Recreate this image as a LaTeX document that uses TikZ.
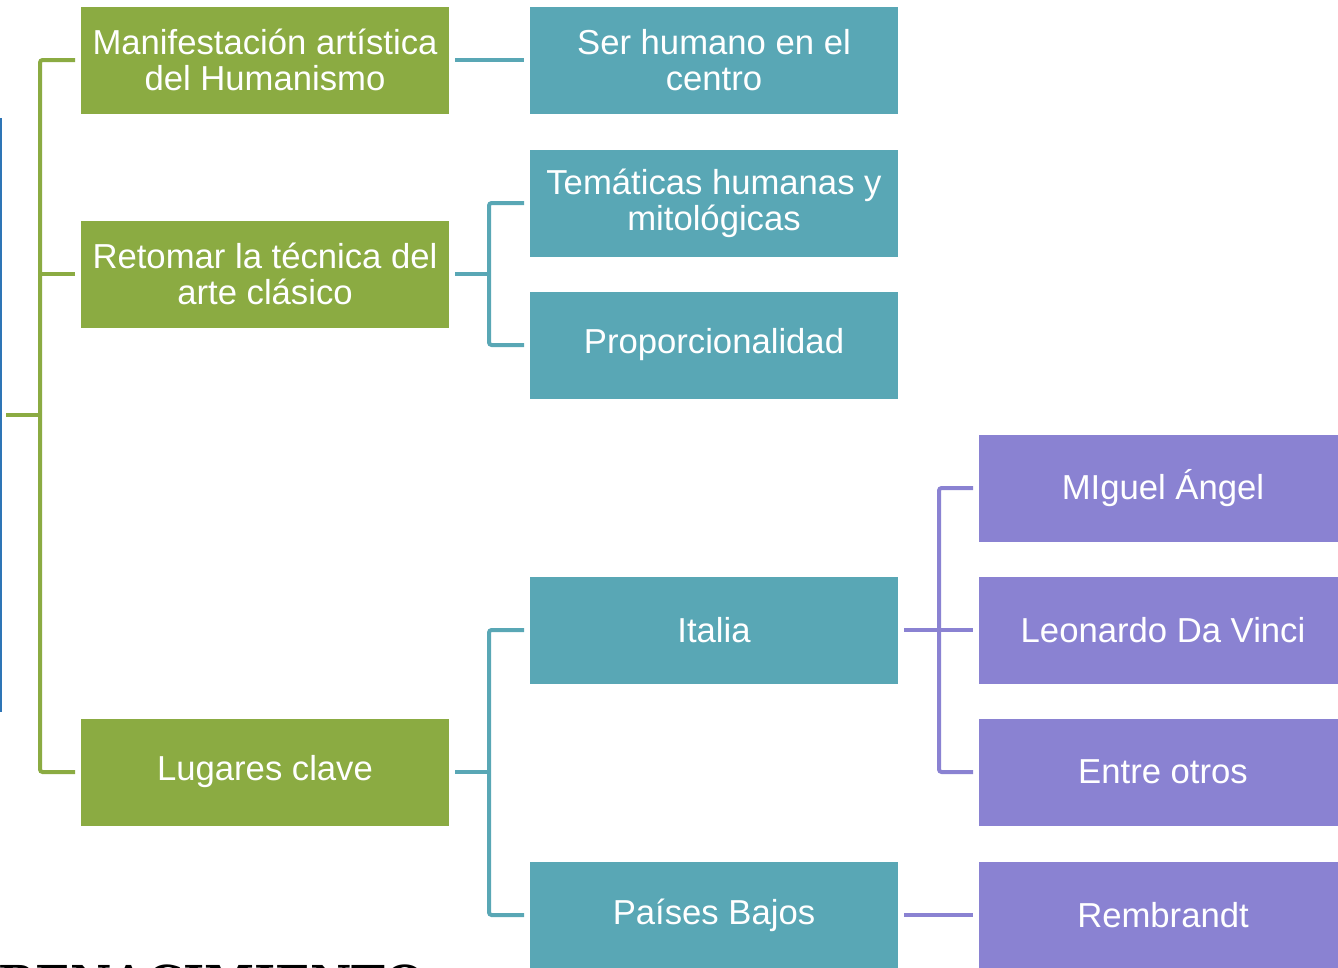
\documentclass[tikz,border=0pt]{standalone}
\usepackage{fontspec}
\setmainfont{Liberation Sans}
\newfontfamily\titlefont{DejaVu Serif}
\definecolor{boxgreen}{RGB}{139,171,66}
\definecolor{boxteal}{RGB}{89,167,181}
\definecolor{boxpurple}{RGB}{138,130,210}
\definecolor{edgeblue}{RGB}{46,117,182}
\tikzset{
  box/.style={minimum width=276pt,minimum height=80.25pt,inner sep=0pt,outer sep=4.5pt,
    text=white,align=center,font=\fontsize{26}{27}\selectfont},
  gbox/.style={box,fill=boxgreen},
  tbox/.style={box,fill=boxteal},
  pbox/.style={box,fill=boxpurple},
  link/.style={line width=3pt,rounded corners=2pt}
}
\begin{document}
\begin{tikzpicture}[x=0.75pt,y=0.75pt,yscale=-1,xscale=1]
\useasboundingbox (0,0) rectangle (1338,967);
\clip (0,0) rectangle (1338,967);
%left edge
\draw [edgeblue,line width=1.5pt] (1,118) -- (1,712);
% Title (cut off)
\node [anchor=base west,inner sep=0pt,font=\titlefont\bfseries\fontsize{34}{34}\selectfont] (title) at (-2,998) {RENACIMIENTO};

% Green column
\node [gbox] (g1) at (265,60) {Manifestación artística\\del Humanismo};
\node [gbox] (g2) at (265,274) {Retomar la técnica del\\arte clásico};
\node [gbox] (g3) at (265,772) {Lugares clave};
% Teal column
\node [tbox] (t1) at (714,60) {Ser humano en el\\centro};
\node [tbox] (t2) at (714,203) {Temáticas humanas y\\mitológicas};
\node [tbox] (t3) at (714,345) {Proporcionalidad};
\node [tbox] (t4) at (714,630) {Italia};
\node [tbox] (t5) at (714,915) {Países Bajos};
% Purple column
\node [pbox] (p1) at (1163,488) {MIguel Ángel};
\node [pbox] (p2) at (1163,630) {Leonardo Da Vinci};
\node [pbox] (p3) at (1163,772) {Entre otros};
\node [pbox] (p4) at (1163,915) {Rembrandt};

% Branch points
\coordinate (root) at (6,415);
\coordinate (gbus) at (40,415);
\coordinate (tb2) at (489,274);
\coordinate (tb3) at (489,772);
\coordinate (pb) at (939,630);

% Green links
\draw [link,boxgreen] (g1.west) -| (gbus) |- (g3.west);
\draw [link,boxgreen] (g2.west) -- (g2.west -| gbus);
\draw [link,boxgreen] (root) -- (gbus);
% Teal links
\draw [link,boxteal] (g1.east) -- (t1.west);
\draw [link,boxteal] (t2.west) -| (tb2) |- (t3.west);
\draw [link,boxteal] (g2.east) -- (tb2);
\draw [link,boxteal] (t4.west) -| (tb3) |- (t5.west);
\draw [link,boxteal] (g3.east) -- (tb3);
% Purple links
\draw [link,boxpurple] (p1.west) -| (pb) |- (p3.west);
\draw [link,boxpurple] (t4.east) -- (p2.west);
\draw [link,boxpurple] (t5.east) -- (p4.west);
\end{tikzpicture}
\end{document}
